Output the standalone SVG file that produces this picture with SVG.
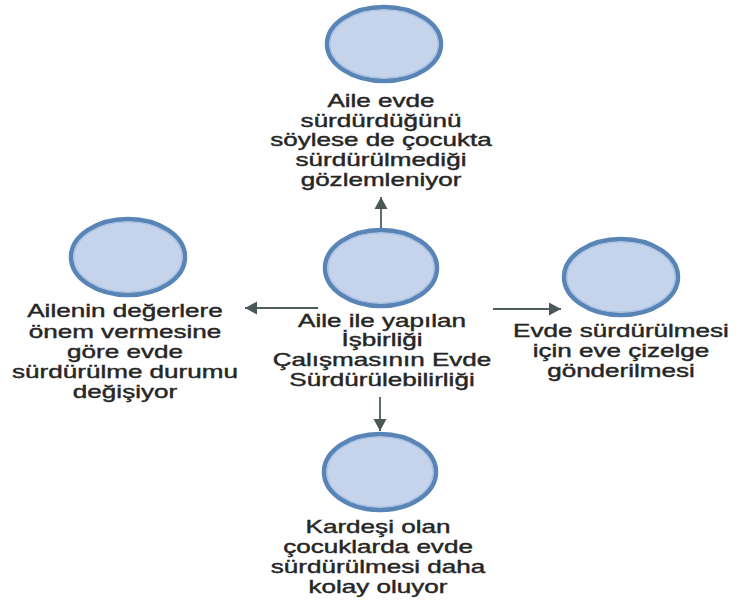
<svg xmlns="http://www.w3.org/2000/svg" width="736" height="606" viewBox="0 0 736 606">
<defs>
<style>
.node ellipse{fill:#c6d4eb;stroke:#5885b6;stroke-width:4.5}
.node ellipse.ring{fill:none;stroke:#a7c0e4;stroke-width:1.2}
.lbl{font-family:"Liberation Sans",Arial,sans-serif;font-size:17.5px;fill:#262626;stroke:#262626;stroke-width:0.4;text-anchor:middle}
.edge{stroke:#4f5d5d;stroke-width:1.8;fill:none;marker-end:url(#ah)}
</style>
<marker id="ah" markerWidth="14" markerHeight="16" refX="12" refY="7" orient="auto" markerUnits="userSpaceOnUse">
<path d="M0,0.5 L12,7 L0,13.5 Z" fill="#4a5858"/>
</marker>
</defs>
<rect width="736" height="606" fill="#ffffff"/>
<g id="connectors">
<line class="edge" x1="381" y1="228" x2="381" y2="197"/>
<line class="edge" x1="318" y1="308" x2="245" y2="308"/>
<line class="edge" x1="493" y1="309" x2="561" y2="309"/>
<line class="edge" x1="380" y1="397" x2="380" y2="431"/>
</g>
<g id="n-top" class="node">
<ellipse cx="384" cy="44" rx="57" ry="37"/>
<ellipse class="ring" cx="384" cy="44" rx="54" ry="34"/>
<g transform="translate(381,0) scale(1.49,1)">
<text class="lbl" x="0" y="107">Aile evde</text>
<text class="lbl" x="0" y="127">sürdürdüğünü</text>
<text class="lbl" x="0" y="146.5">söylese de çocukta</text>
<text class="lbl" x="0" y="166">sürdürülmediği</text>
<text class="lbl" x="0" y="186">gözlemleniyor</text>
</g>
</g>
<g id="n-center" class="node">
<ellipse cx="381" cy="268" rx="56" ry="38"/>
<ellipse class="ring" cx="381" cy="268" rx="53" ry="35"/>
<g transform="translate(382,0) scale(1.49,1)">
<text class="lbl" x="0" y="327">Aile ile yapılan</text>
<text class="lbl" x="0" y="346.5">İşbirliği</text>
<text class="lbl" x="0" y="366">Çalışmasının Evde</text>
<text class="lbl" x="0" y="386">Sürdürülebilirliği</text>
</g>
</g>
<g id="n-left" class="node">
<ellipse cx="128" cy="257" rx="57" ry="38"/>
<ellipse class="ring" cx="128" cy="257" rx="54" ry="35"/>
<g transform="translate(125,0) scale(1.49,1)">
<text class="lbl" x="0" y="317">Ailenin değerlere</text>
<text class="lbl" x="0" y="338">önem vermesine</text>
<text class="lbl" x="0" y="358">göre evde</text>
<text class="lbl" x="0" y="378">sürdürülme durumu</text>
<text class="lbl" x="0" y="398">değişiyor</text>
</g>
</g>
<g id="n-right" class="node">
<ellipse cx="621" cy="277" rx="57" ry="38"/>
<ellipse class="ring" cx="621" cy="277" rx="54" ry="35"/>
<g transform="translate(621,0) scale(1.49,1)">
<text class="lbl" x="0" y="337">Evde sürdürülmesi</text>
<text class="lbl" x="0" y="357">için eve çizelge</text>
<text class="lbl" x="0" y="377">gönderilmesi</text>
</g>
</g>
<g id="n-bottom" class="node">
<ellipse cx="380" cy="472" rx="56" ry="38"/>
<ellipse class="ring" cx="380" cy="472" rx="53" ry="35"/>
<g transform="translate(378,0) scale(1.49,1)">
<text class="lbl" x="0" y="533">Kardeşi olan</text>
<text class="lbl" x="0" y="553">çocuklarda evde</text>
<text class="lbl" x="0" y="573">sürdürülmesi daha</text>
<text class="lbl" x="0" y="593">kolay oluyor</text>
</g>
</g>
</svg>
